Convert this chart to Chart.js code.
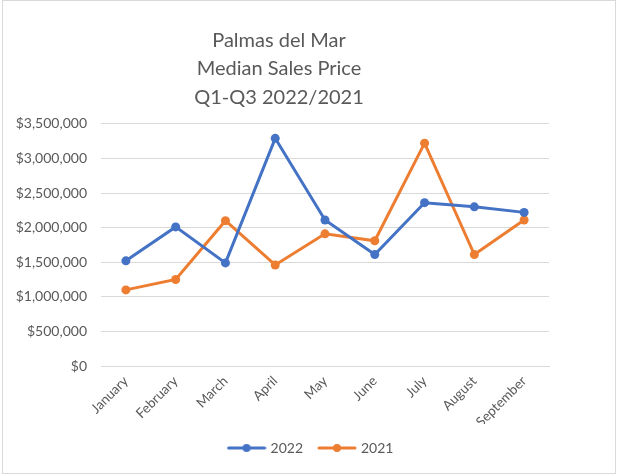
<!DOCTYPE html>
<html>
<head>
<meta charset="utf-8">
<script src="https://cdn.jsdelivr.net/npm/chart.js@4"></script>
<style>
html,body{margin:0;padding:0;background:#fff;}
#wrap{position:absolute;left:2px;top:0;width:614px;height:474px;border:1px solid #d9d9d9;box-sizing:border-box;}
canvas{display:block;}
</style>
</head>
<body>
<div id="wrap"><canvas id="c" width="614" height="474"></canvas></div>
<script>
const titleLines = ["Palmas del Mar", "Median Sales Price", "Q1-Q3 2022/2021"];
const months = ["January","February","March","April","May","June","July","August","September"];
const series2022 = [1520000, 2010000, 1490000, 3290000, 2110000, 1610000, 2360000, 2300000, 2220000];
const series2021 = [1100000, 1250000, 2100000, 1460000, 1910000, 1810000, 3220000, 1610000, 2110000];
const yTicks = [0, 500000, 1000000, 1500000, 2000000, 2500000, 3000000, 3500000];

const BLUE = "#4472C4", ORANGE = "#ED7D31", TXT = "#595959";
const FONT = "Lato, 'Open Sans', sans-serif";

function marker(color){
  const c = document.createElement('canvas');
  c.width = 40; c.height = 10;
  const g = c.getContext('2d');
  g.strokeStyle = color; g.lineWidth = 3; g.lineCap = 'round';
  g.beginPath(); g.moveTo(2,5); g.lineTo(38,5); g.stroke();
  g.fillStyle = color; g.beginPath(); g.arc(20,5,4,0,Math.PI*2); g.fill();
  return c;
}

const legendShift = {
  id: 'legendShift',
  afterLayout(chart){
    const lg = chart.legend;
    if (!lg) return;
    const target = 308.5;
    const cur = (lg.left + lg.right) / 2;
    const d = target - cur;
    lg.left += d; lg.right += d;
  }
};

new Chart(document.getElementById('c'), {
  type: 'line',
  data: {
    labels: months,
    datasets: [
      {label: "2022", data: series2022, borderColor: BLUE, backgroundColor: BLUE, borderWidth: 3, pointRadius: 4.5, pointBackgroundColor: BLUE, pointBorderWidth: 0, tension: 0},
      {label: "2021", data: series2021, borderColor: ORANGE, backgroundColor: ORANGE, borderWidth: 3, pointRadius: 4.5, pointBackgroundColor: ORANGE, pointBorderWidth: 0, tension: 0}
    ]
  },
  options: {
    responsive: false,
    animation: false,
    devicePixelRatio: 1,
    layout: {padding: {left: 6, right: 68, top: 25, bottom: 10}},
    plugins: {
      title: {display: true, text: titleLines, color: TXT, font: {family: FONT, size: 20, weight: 'normal', lineHeight: 1.43}, padding: {top: 0, bottom: 12}},
      legend: {
        position: 'bottom',
        labels: {
          color: TXT, font: {family: FONT, size: 14}, usePointStyle: true, pointStyleWidth: 34, boxHeight: 10, padding: 17,
          generateLabels(chart){
            return chart.data.datasets.map((d,i)=>({text: d.label, fillStyle: d.borderColor, strokeStyle: d.borderColor, pointStyle: marker(d.borderColor), datasetIndex: i, fontColor: TXT, lineWidth: 0}));
          }
        }
      },
      tooltip: {enabled: false}
    },
    scales: {
      x: {
        offset: true,
        grid: {display: false, drawTicks: false},
        border: {display: true, color: '#d9d9d9'},
        ticks: {color: TXT, font: {family: FONT, size: 13.5}, maxRotation: 45, minRotation: 45, padding: 7},
        afterFit(axis){ axis.height = 58; }
      },
      y: {
        min: 0, max: 3500000,
        afterBuildTicks(axis){ axis.ticks = yTicks.map(v=>({value:v})); },
        afterFit(axis){ axis.width = 92; },
        grid: {color: '#d9d9d9', drawTicks: false},
        border: {display: false},
        ticks: {color: TXT, font: {family: FONT, size: 14}, padding: 14,
          callback(v){ return '$' + v.toLocaleString('en-US'); }}
      }
    }
  },
  plugins: [legendShift]
});
</script>
</body>
</html>
